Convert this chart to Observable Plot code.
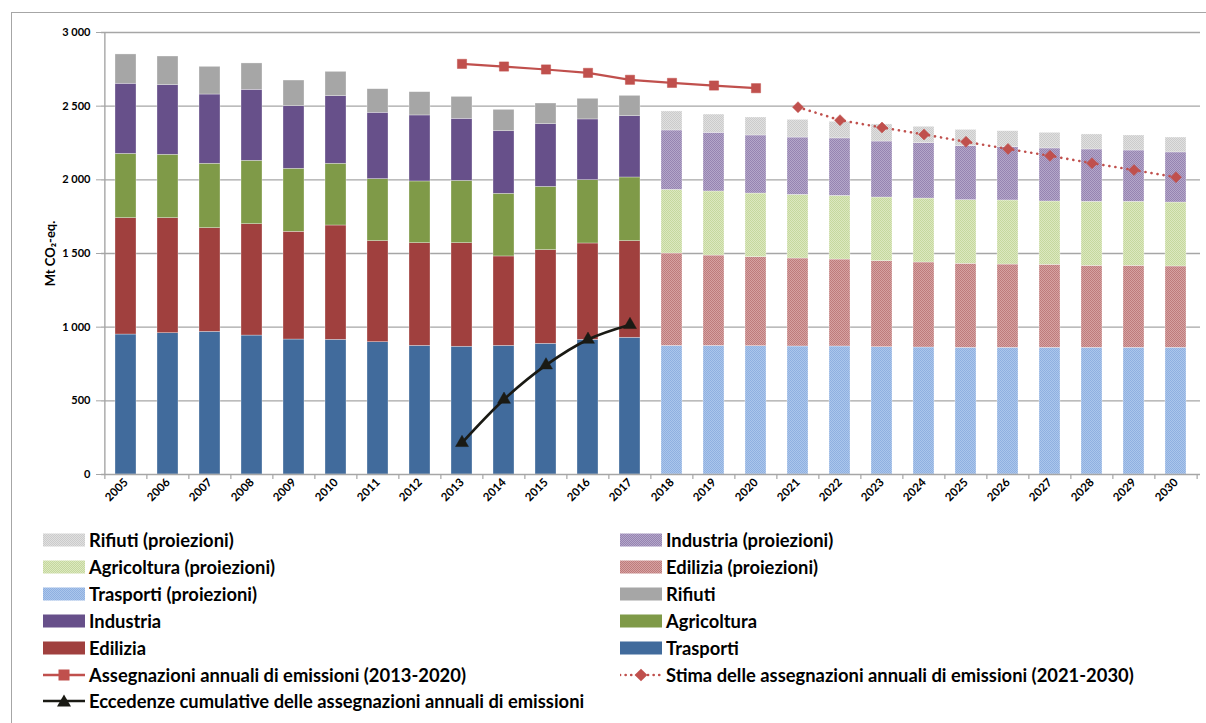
<!DOCTYPE html>
<html><head><meta charset="utf-8">
<script src="https://cdn.jsdelivr.net/npm/d3@7"></script>
<script src="https://cdn.jsdelivr.net/npm/@observablehq/plot@0.6"></script>
<style>
body{margin:0;background:#fff;font-family:Lato,"Open Sans",sans-serif;}
#wrap{position:relative;width:1206px;height:723px;overflow:hidden;background:#fff;}
#frame{position:absolute;left:11px;top:12px;width:1300px;height:800px;border:1px solid #a6a6a6;}
#chart{position:absolute;left:0;top:0;}
#legend{position:absolute;left:0;top:0;width:1206px;height:723px;}
.item{position:absolute;height:24px;display:flex;align-items:center;font-weight:700;font-size:18px;color:#000;white-space:nowrap;}
.item span{display:inline-block;transform:scaleX(1.02);transform-origin:left center;}
.item svg{margin-right:4px;flex:none}
</style></head><body>
<svg width="0" height="0" style="position:absolute"><defs id="defs"></defs></svg>
<div id="wrap"><div id="frame"></div><div id="chart"></div><div id="legend"></div></div>
<script>
// ---------- data ----------
const years = ["2005","2006","2007","2008","2009","2010","2011","2012","2013","2014","2015","2016","2017","2018","2019","2020","2021","2022","2023","2024","2025","2026","2027","2028","2029","2030"];
const firstProjectionYear = "2018";
const sectors = ["Trasporti","Edilizia","Agricoltura","Industria","Rifiuti"];
const trasporti   = [950,959,968,943,916,914,898,873,867,873,887,914,928,873,873,871,869,869,864,862,860,860,860,860,860,860];
const edilizia    = [790,781,704,756,731,776,686,697,703,607,636,654,656,627,613,604,597,590,584,577,570,565,563,556,556,552];
const agricoltura = [436,430,437,430,428,419,421,419,423,425,429,430,432,432,435,432,432,432,432,434,432,435,430,435,435,434];
const industria   = [476,473,470,482,425,459,450,448,421,425,426,412,416,403,398,394,389,390,380,376,367,362,360,355,348,340];
const rifiuti     = [199,194,188,179,174,165,160,158,149,145,140,140,138,129,124,122,120,113,116,111,110,108,106,102,102,101];
const allocYears = ["2013","2014","2015","2016","2017","2018","2019","2020"];
const allocValues = [2787,2769,2749,2726,2679,2658,2640,2622];
const estYears = ["2021","2022","2023","2024","2025","2026","2027","2028","2029","2030"];
const estValues = [2493,2405,2355,2308,2258,2210,2163,2113,2066,2018];
const excYears = ["2013","2014","2015","2016","2017"];
const excValues = [215,509,742,916,1016];
const yTicks = [0,500,1000,1500,2000,2500,3000];

// ---------- styles ----------
const histColors = ["#416B9C","#A0403E","#7F9A48","#67508A","#A6A6A6"];
const projBase = ["#ABC6EC","#D6A2A2","#DCE8C0","#B4A7C9","#E0E0E0"];
const projDot  = ["#8FB0E0","#BE7C7C","#C5D89D","#9684B1","#CBCBCB"];
const patIds = sectors.map((s,i)=>"pat"+i);

const NS="http://www.w3.org/2000/svg";
const defs=document.getElementById("defs");
patIds.forEach((id,i)=>{
  const p=document.createElementNS(NS,"pattern");
  p.setAttribute("id",id);p.setAttribute("patternUnits","userSpaceOnUse");
  p.setAttribute("width","2");p.setAttribute("height","2");
  const r0=document.createElementNS(NS,"rect");
  r0.setAttribute("width","2");r0.setAttribute("height","2");r0.setAttribute("fill",projBase[i]);p.appendChild(r0);
  [[0,0],[1,1]].forEach(([x,y])=>{const r=document.createElementNS(NS,"rect");
    r.setAttribute("x",x);r.setAttribute("y",y);r.setAttribute("width","1");r.setAttribute("height","1");r.setAttribute("fill",projDot[i]);p.appendChild(r);});
  defs.appendChild(p);
});

const values=[trasporti,edilizia,agricoltura,industria,rifiuti];
const rows=[];
years.forEach((yr,i)=>sectors.forEach((s,k)=>{
  const proj = +yr >= +firstProjectionYear;
  rows.push({year:yr, sector:s, key: proj ? s+" (proiezioni)" : s, value: values[k][i]});
}));
const keys=[...sectors, ...sectors.map(s=>s+" (proiezioni)")];
const keyColors=[...histColors, ...patIds.map(id=>`url(#${id})`)];

const alloc=allocYears.map((y,i)=>({year:y,value:allocValues[i]}));
const est=estYears.map((y,i)=>({year:y,value:estValues[i]}));
const exc=excYears.map((y,i)=>({year:y,value:excValues[i]}));

const W=1206, ML=101, MR=6, MT=32, H=516, MB=H-474;
const step=(W-ML-MR)/years.length;
const fmt=d=>d3.format(",")(d).replace(/,/g," ");
const grid="#A6A6A6";

const chart=Plot.plot({
  width:W,height:H,marginLeft:ML,marginRight:MR,marginTop:MT,marginBottom:MB,
  style:{fontFamily:"Lato, 'Open Sans', sans-serif",background:"transparent",overflow:"visible"},
  x:{type:"band",domain:years,paddingInner:0.5,paddingOuter:0.25,label:null},
  y:{domain:[0,3000]},
  color:{domain:keys,range:keyColors},
  marks:[
    Plot.ruleY(yTicks.filter(d=>d>0),{stroke:grid,strokeWidth:1.4}),
    Plot.barY(rows,Plot.stackY({x:"year",y:"value",fill:"key",order:null,stroke:"#fff",strokeOpacity:0.5,strokeWidth:0.6})),
    Plot.ruleY([0],{stroke:grid,strokeWidth:1.4}),
    Plot.ruleX([years[0]],{dx:-step/2,y1:0,y2:3000,stroke:grid,strokeWidth:1.4}),
    Plot.axisX({tickSize:5,tickFormat:()=>"",dx:-step/2,stroke:grid,strokeWidth:1.2,label:null}),
    Plot.axisX([years[years.length-1]],{tickSize:5,tickFormat:()=>"",dx:step/2,stroke:grid,strokeWidth:1.2,label:null}),
    Plot.axisX({tickSize:0,tickPadding:6,tickRotate:-45,fontWeight:"bold",fontSize:11.5,fill:"#000",label:null}),
    Plot.axisY({ticks:yTicks,tickSize:5,tickPadding:6,tickFormat:fmt,fontWeight:"bold",fontSize:11,stroke:grid,fill:"#000",
      label:"Mt CO₂-eq.",labelAnchor:"center",labelArrow:"none",labelOffset:56}),
    Plot.line(alloc,{x:"year",y:"value",stroke:"#C0504D",strokeWidth:2.2}),
    Plot.dot(alloc,{x:"year",y:"value",symbol:"square",r:5.2,fill:"#C0504D",stroke:"#C0504D",strokeWidth:0.5}),
    Plot.line(est,{x:"year",y:"value",stroke:"#C0504D",strokeWidth:2.6,strokeDasharray:"0.1 6",strokeLinecap:"round"}),
    Plot.dot(est,{x:"year",y:"value",symbol:"square",rotate:45,r:4.4,fill:"#C0504D",stroke:"#C0504D",strokeWidth:0.5}),
    Plot.line(exc,{x:"year",y:"value",stroke:"#1A1A14",strokeWidth:2.6,curve:"catmull-rom"}),
    Plot.dot(exc,{x:"year",y:"value",symbol:"triangle",r:4.8,fill:"#1A1A14",stroke:"#1A1A14",strokeWidth:0.5})
  ]
});
const yl=chart.querySelector('g[aria-label="y-axis label"]');
if(yl){yl.setAttribute("font-size","13");yl.setAttribute("font-weight","bold");
  yl.querySelectorAll("text").forEach(t=>{t.setAttribute("font-size","13");t.setAttribute("font-weight","bold");});}
document.getElementById("chart").appendChild(chart);

// ---------- legend ----------
const legend=document.getElementById("legend");
const SW=42, SH=14;
function swatchRect(fill){return `<svg width="${SW}" height="${SH}"><rect x="0" y="0.5" width="${SW}" height="13" fill="${fill}"/></svg>`;}
function swatchLine(color,sym,dash){
  const c=SW/2, m0=SH/2;
  let m="";
  if(sym==="square") m=`<rect x="${c-5.5}" y="${m0-5.5}" width="11" height="11" fill="${color}"/>`;
  if(sym==="diamond") m=`<rect x="${c-4.5}" y="${m0-4.5}" width="9" height="9" fill="${color}" transform="rotate(45 ${c} ${m0})"/>`;
  if(sym==="triangle") m=`<path d="M${c},${m0-6.5} L${c+7},${m0+5.5} L${c-7},${m0+5.5} Z" fill="${color}"/>`;
  return `<svg width="${SW}" height="${SH}"><line x1="0" y1="${m0}" x2="${SW}" y2="${m0}" stroke="${color}" stroke-width="2.6" ${dash?'stroke-dasharray="0.1 5.5" stroke-linecap="round"':''}/>${m}</svg>`;
}
const legendItems=[
  {col:0,row:0,label:"Rifiuti (proiezioni)",sw:swatchRect(keyColors[keys.indexOf("Rifiuti (proiezioni)")])},
  {col:1,row:0,label:"Industria (proiezioni)",sw:swatchRect(keyColors[keys.indexOf("Industria (proiezioni)")])},
  {col:0,row:1,label:"Agricoltura (proiezioni)",sw:swatchRect(keyColors[keys.indexOf("Agricoltura (proiezioni)")])},
  {col:1,row:1,label:"Edilizia (proiezioni)",sw:swatchRect(keyColors[keys.indexOf("Edilizia (proiezioni)")])},
  {col:0,row:2,label:"Trasporti (proiezioni)",sw:swatchRect(keyColors[keys.indexOf("Trasporti (proiezioni)")])},
  {col:1,row:2,label:"Rifiuti",sw:swatchRect(keyColors[keys.indexOf("Rifiuti")])},
  {col:0,row:3,label:"Industria",sw:swatchRect(keyColors[keys.indexOf("Industria")])},
  {col:1,row:3,label:"Agricoltura",sw:swatchRect(keyColors[keys.indexOf("Agricoltura")])},
  {col:0,row:4,label:"Edilizia",sw:swatchRect(keyColors[keys.indexOf("Edilizia")])},
  {col:1,row:4,label:"Trasporti",sw:swatchRect(keyColors[keys.indexOf("Trasporti")])},
  {col:0,row:5,label:"Assegnazioni annuali di emissioni (2013-2020)",sw:swatchLine("#C0504D","square",false)},
  {col:1,row:5,label:"Stima delle assegnazioni annuali di emissioni (2021-2030)",sw:swatchLine("#C0504D","diamond",true)},
  {col:0,row:6,label:"Eccedenze cumulative delle assegnazioni annuali di emissioni",sw:swatchLine("#1A1A14","triangle",false)}
];
const colX=[43,620];
legendItems.forEach(it=>{
  const d=document.createElement("div");d.className="item";
  d.style.left=colX[it.col]+"px";
  d.style.top=(540+it.row*26.9-12)+"px";
  d.innerHTML=it.sw+`<span>${it.label}</span>`;
  legend.appendChild(d);
});
</script>
</body></html>
